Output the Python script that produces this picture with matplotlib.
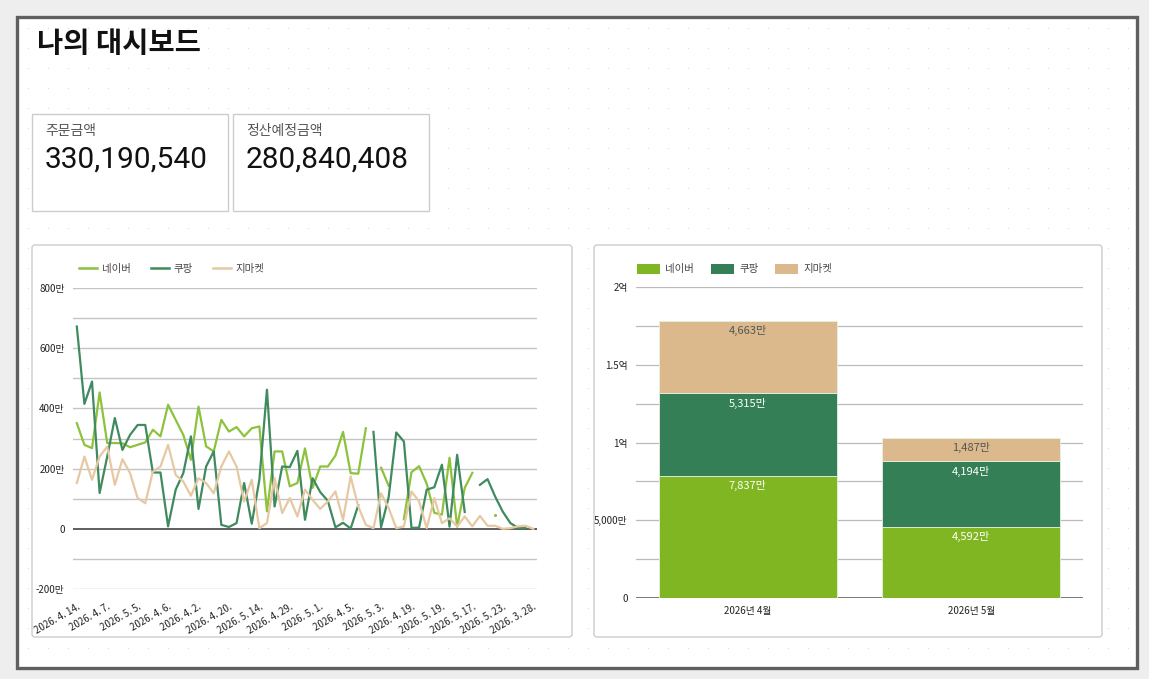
import numpy as np
import matplotlib
matplotlib.use("Agg")
import matplotlib.pyplot as plt
from matplotlib.patches import Rectangle, FancyBboxPatch, Patch
from matplotlib.lines import Line2D

plt.rcParams['font.family'] = ['Noto Sans CJK KR', 'DejaVu Sans']

# ---------------------------------------------------------------------------
# data (values in 만원)
# ---------------------------------------------------------------------------
TITLE = '나의 대시보드'
KPI_LABELS = ['주문금액', '정산예정금액']
KPI_VALUES = [330190540, 280840408]

SERIES = ['네이버', '쿠팡', '지마켓']

DATE_TICKS = ['2026. 4. 14.', '2026. 4. 7.', '2026. 5. 5.', '2026. 4. 6.',
              '2026. 4. 2.', '2026. 4. 20.', '2026. 5. 14.', '2026. 4. 29.',
              '2026. 5. 1.', '2026. 4. 5.', '2026. 5. 3.', '2026. 4. 19.',
              '2026. 5. 19.', '2026. 5. 17.', '2026. 5. 23.', '2026. 3. 28.']

N = None
naver = [351, 279, 268, 453, 285, 285, 284, 271, 279, 287,
         329, 307, 412, 362, 312, 229, 406, 274, 257, 362,
         323, 338, 307, 334, 340, 58, 257, 257, 141, 152,
         267, 136, 207, 207, 243, 322, 185, 183, 334, N,
         203, 143, N, 32, 188, 208, 150, 53, 47, 236,
         7, 136, 186, N, N, 47, N, N, N, N, N]
coupang = [672, 415, 489, 119, 240, 368, 262, 312, 345, 345,
           187, 187, 8, 130, 185, 307, 66, 207, 257, 13,
           6, 19, 152, 17, 163, 462, 74, 207, 205, 259,
           30, 168, 122, 93, 5, 20, 1, 78, N, 322,
           5, 105, 320, 290, 3, 4, 130, 138, 213, 7,
           246, 56, N, 146, 165, 107, 57, 19, 3, 2, N]
gmarket = [152, 240, 163, 240, 273, 146, 231, 185, 102, 85,
           190, 207, 279, 179, 157, 110, 168, 152, 118, 207,
           257, 207, 91, 163, 2, 19, 168, 52, 102, 41,
           130, 96, 66, 91, 124, 30, 174, 74, 13, 2,
           118, 69, 2, 8, 124, 91, 2, 102, 19, 35,
           8, 41, 8, 43, 10, 10, 0, 2, 8, 10, 0]

MONTHS = ['2026년 4월', '2026년 5월']
naver_m = [7837, 4592]
coupang_m = [5315, 4194]
gmarket_m = [4663, 1487]

LINE_COLORS = ['#8cc23c', '#3f8a5f', '#e6c8a2']
BAR_COLORS = ['#80b622', '#347f55', '#dbb98d']

# ---------------------------------------------------------------------------
W, H = 1149, 679
fig = plt.figure(figsize=(W / 100, H / 100), dpi=100)
fig.patch.set_facecolor('#eeeeee')


def rect(x0, y0, x1, y1):
    return [x0 / W, 1 - y1 / H, (x1 - x0) / W, (y1 - y0) / H]


# background canvas in pixel coordinates
bg = fig.add_axes([0, 0, 1, 1])
bg.set_xlim(0, W)
bg.set_ylim(H, 0)
bg.axis('off')

bg.add_patch(Rectangle((17, 17), 1120, 651, facecolor='white',
                       edgecolor='#5f5f5f', lw=2.4))
gx, gy = np.meshgrid(np.arange(28, 1130, 20), np.arange(28, 662, 20))
bg.scatter(gx.ravel(), gy.ravel(), s=0.7, color='#d8d8d8', lw=0)

bg.text(37, 44, TITLE, fontsize=20.5, fontweight='bold', va='center',
        color='#111111')

for i, (lab, val) in enumerate(zip(KPI_LABELS, KPI_VALUES)):
    x0 = 32 + i * 201
    bg.add_patch(Rectangle((x0, 114), 196, 97, facecolor='white',
                           edgecolor='#cccccc', lw=1))
    bg.text(x0 + 13, 131, lab, fontsize=10, color='#555555', va='center')
    bg.text(x0 + 13, 160, f'{val:,}', fontsize=21.5, color='#111111',
            va='center', family=['Roboto', 'DejaVu Sans'])

for x0, x1 in [(32, 572), (594, 1102)]:
    bg.add_patch(FancyBboxPatch((x0, 245), x1 - x0, 392,
                                boxstyle='round,pad=0,rounding_size=3',
                                facecolor='white', edgecolor='#cccccc', lw=1))

# ---------------------------------------------------------------------------
# line chart
# ---------------------------------------------------------------------------
ax = fig.add_axes(rect(73, 288, 537, 589))
x = np.arange(len(naver))
for name, vals, c in zip(SERIES, [naver, coupang, gmarket], LINE_COLORS):
    y = np.array([np.nan if v is None else v for v in vals], dtype=float)
    ax.plot(x, y, color=c, lw=1.6, label=name, zorder=3)
    # single points between gaps
    iso = [i for i in range(len(y)) if not np.isnan(y[i])
           and (i == 0 or np.isnan(y[i - 1]))
           and (i == len(y) - 1 or np.isnan(y[i + 1]))]
    ax.scatter(x[iso], y[iso], s=5, color=c, zorder=3, lw=0)

ax.set_xlim(-0.5, len(naver) - 0.5)
ax.set_ylim(-200, 800)
for v in range(-200, 801, 100):
    ax.axhline(v, color='#333333' if v == 0 else '#c4c4c4',
               lw=1.1 if v == 0 else 1, zorder=1)
ax.set_yticks(range(-200, 801, 200))
ax.set_yticklabels([f'{v}만' if v != 0 else '0' for v in range(-200, 801, 200)],
                   fontsize=7, color='#222222')
ax.set_xticks(range(0, len(naver), 4))
ax.set_xticklabels(DATE_TICKS, rotation=30, ha='right',
                   rotation_mode='anchor', fontsize=7, color='#222222')
ax.tick_params(length=0, axis='y', pad=6)
ax.tick_params(length=0, axis='x', pad=9)
for s in ax.spines.values():
    s.set_visible(False)
ax.set_facecolor('none')

handles = [Line2D([0], [0], color=c, lw=1.8) for c in LINE_COLORS]
fig.legend(handles, SERIES, loc='center left',
           bbox_to_anchor=(70 / W, 1 - 269 / H), ncol=3, frameon=False,
           fontsize=7.5, handlelength=1.7, handletextpad=0.5,
           columnspacing=1.9, labelcolor='#444444')

# ---------------------------------------------------------------------------
# stacked bar chart
# ---------------------------------------------------------------------------
bx = fig.add_axes(rect(636, 287, 1083, 598))
pos = np.arange(len(MONTHS))
bottom = np.zeros(len(MONTHS))
for name, vals, c in zip(SERIES, [naver_m, coupang_m, gmarket_m], BAR_COLORS):
    vals = np.array(vals, dtype=float)
    bx.bar(pos, vals, 0.795, bottom=bottom, color=c, edgecolor='#e8f0e0',
           lw=0.6, label=name, zorder=3)
    tc = '#555555' if name == '지마켓' else 'white'
    for p, v, b in zip(pos, vals, bottom):
        bx.annotate(f'{int(v):,}만', (p, b + v), xytext=(0, -7),
                    textcoords='offset points', ha='center', va='center',
                    fontsize=8, color=tc, zorder=4)
    bottom += vals

bx.set_xlim(-0.5, len(MONTHS) - 0.5)
bx.set_ylim(0, 20000)
for v in range(0, 20001, 2500):
    bx.axhline(v, color='#555555' if v == 0 else '#bbbbbb',
               lw=1.1 if v == 0 else 0.9, zorder=1)
bx.set_yticks([0, 5000, 10000, 15000, 20000])
bx.set_yticklabels(['0', '5,000만', '1억', '1.5억', '2억'], fontsize=7,
                   color='#222222')
bx.set_xticks(pos)
bx.set_xticklabels(MONTHS, fontsize=7, color='#222222')
bx.tick_params(length=0, axis='y', pad=6)
bx.tick_params(length=0, axis='x', pad=6)
for s in bx.spines.values():
    s.set_visible(False)
bx.set_facecolor('none')

bh = [Patch(facecolor=c) for c in BAR_COLORS]
fig.legend(bh, SERIES, loc='center left',
           bbox_to_anchor=(628 / W, 1 - 269 / H), ncol=3, frameon=False,
           fontsize=7.5, handlelength=2.2, handleheight=1.1, handletextpad=0.5,
           columnspacing=1.6, labelcolor='#444444')

fig.savefig('out.png', dpi=100, facecolor=fig.get_facecolor())
